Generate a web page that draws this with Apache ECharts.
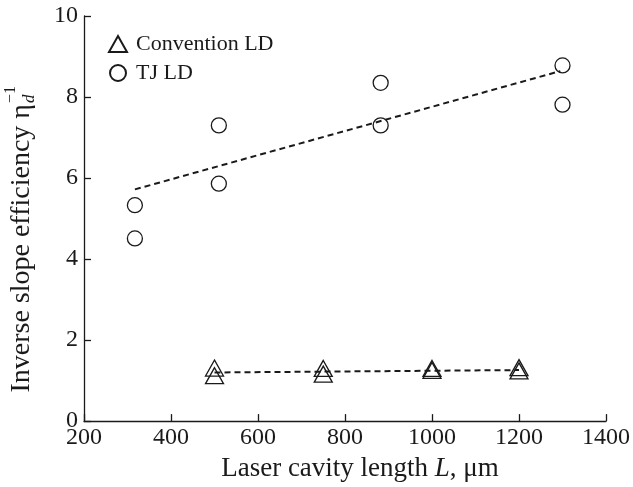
<!DOCTYPE html>
<html>
<head>
<meta charset="utf-8">
<script src="https://cdn.jsdelivr.net/npm/echarts@6/dist/echarts.min.js"></script>
<style>
  html, body { margin: 0; padding: 0; background: #fff; }
  #main { width: 633px; height: 487px; }
</style>
</head>
<body>
<div id="main"></div>
<script>
// cavity length (um) and inverse slope efficiency
const convX = [500, 500, 750, 750, 1000, 1000, 1200, 1200]
const convY = [1.31, 1.12, 1.30, 1.16, 1.30, 1.25, 1.32, 1.24]
const tjX = [317, 317, 510, 510, 882, 882, 1300, 1300]
const tjY = [5.33, 4.51, 7.30, 5.86, 8.35, 7.30, 8.78, 7.81]
// dashed fit lines, end points
const convFitX = [500, 1200]
const convFitY = [1.20, 1.26]
const tjFitX = [317, 1295]
const tjFitY = [5.72, 8.64]

const serif = 'Liberation Serif'
const ink = '#1a1a1a'

const zip = (xs, ys) => xs.map((x, i) => [x, ys[i]])

const chart = echarts.init(document.getElementById('main'))

chart.setOption({
  backgroundColor: '#fff',
  animation: false,
  grid: {left: 84, right: 25, top: 16, bottom: 63},
  legend: {
    data: ['Convention LD', 'TJ LD'],
    orient: 'vertical',
    left: 103,
    top: 28,
    itemGap: 7,
    itemWidth: 18,
    itemHeight: 16,
    textStyle: {fontFamily: serif, fontSize: 22, color: ink, padding: [0, 0, 0, 4]}
  },
  xAxis: {
    type: 'value',
    min: 200,
    max: 1400,
    interval: 200,
    splitLine: {show: false},
    axisLine: {lineStyle: {color: ink, width: 1.3}},
    axisTick: {inside: true, length: 7, lineStyle: {color: ink, width: 1.3}},
    axisLabel: {fontFamily: serif, fontSize: 24, color: ink, margin: 5, formatter: v => String(v)},
    name: 'Laser cavity length {i|L}, μm',
    nameLocation: 'middle',
    nameGap: 31,
    nameTextStyle: {
      fontFamily: serif, fontSize: 27, color: ink, padding: [0, 0, 0, 30],
      rich: {i: {fontFamily: serif, fontSize: 27, fontStyle: 'italic', color: ink}}
    }
  },
  yAxis: {
    type: 'value',
    min: 0,
    max: 10,
    interval: 2,
    splitLine: {show: false},
    axisLine: {lineStyle: {color: ink, width: 1.3}},
    axisTick: {inside: true, length: 7, lineStyle: {color: ink, width: 1.3}},
    axisLabel: {fontFamily: serif, fontSize: 24, color: ink, margin: 6}
  },
  // y axis title with the stacked super/subscript on eta
  graphic: [{
    type: 'group',
    x: 22,
    y: 396,
    rotation: Math.PI / 2,
    children: [
      {type: 'text', x: 292, y: 0, style: {text: 'Inverse slope efficiency η', font: '28px "Liberation Serif"', fill: ink, textAlign: 'right', textVerticalAlign: 'middle'}},
      {type: 'text', x: 293, y: -11, style: {text: '−1', font: '16px "Liberation Serif"', fill: ink, textAlign: 'left', textVerticalAlign: 'middle'}},
      {type: 'text', x: 293, y: 8, style: {text: 'd', font: 'italic 17px "Liberation Serif"', fill: ink, textAlign: 'left', textVerticalAlign: 'middle'}}
    ]
  }],
  series: [
    {
      name: 'Convention LD',
      type: 'scatter',
      symbol: 'triangle',
      symbolSize: [18, 16],
      data: zip(convX, convY),
      itemStyle: {color: 'rgba(0,0,0,0)', borderColor: ink, borderWidth: 1.3, opacity: 1},
      z: 3
    },
    {
      name: 'TJ LD',
      type: 'scatter',
      symbol: 'circle',
      symbolSize: 15,
      data: zip(tjX, tjY),
      itemStyle: {color: 'rgba(0,0,0,0)', borderColor: ink, borderWidth: 1.3, opacity: 1},
      z: 3
    },
    {
      name: 'conv fit',
      type: 'line',
      data: zip(convFitX, convFitY),
      showSymbol: false,
      lineStyle: {color: ink, width: 2, type: [6, 4]},
      z: 2
    },
    {
      name: 'tj fit',
      type: 'line',
      data: zip(tjFitX, tjFitY),
      showSymbol: false,
      lineStyle: {color: ink, width: 2, type: [6, 4]},
      z: 2
    }
  ]
})
</script>
</body>
</html>
